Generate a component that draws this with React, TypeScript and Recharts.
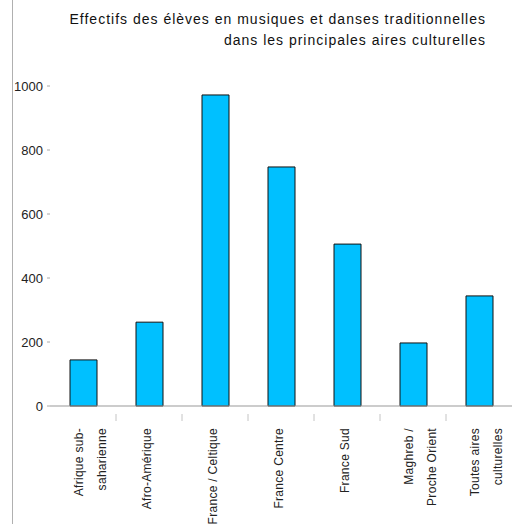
import React from "react";
import { Bar, BarChart, XAxis, YAxis } from "recharts";

const categories = [
  "Afrique sub-|saharienne",
  "Afro-Amérique",
  "France / Celtique",
  "France Centre",
  "France Sud",
  "Maghreb /|Proche Orient",
  "Toutes aires|culturelles",
];
const effectifs = [144, 262, 972, 747, 506, 197, 344];
const yTicks = [0, 200, 400, 600, 800, 1000];

const titleLines = [
  "Effectifs des élèves en musiques et danses traditionnelles",
  "dans les principales aires culturelles",
];

const data = categories.map((c, i) => ({ name: c, value: effectifs[i] }));

const W = 512;
const H = 524;
const LEFT = 50;
const BAND = (W - LEFT) / categories.length;
const FONT = "'Liberation Sans', Arial, Helvetica, sans-serif";

function CategoryTick(props: any) {
  const { x, y, payload, index } = props;
  const lines = String(payload.value).split("|");
  const top = y + 14;
  return (
    <g>
      {index < categories.length - 1 && (
        <line x1={x + BAND / 2} x2={x + BAND / 2} y1={y} y2={y + 7} stroke="#c4c4c4" />
      )}
      {lines.map((ln, k) => {
        const px = lines.length === 1 ? x - 2 : x - 4 + k * 23;
        return (
          <text
            key={k}
            x={px}
            y={top}
            transform={`rotate(-90, ${px}, ${top})`}
            textAnchor="end"
            dominantBaseline="central"
            fontSize={12}
            letterSpacing={0.3}
            fontFamily={FONT}
            fill="#222"
          >
            {ln}
          </text>
        );
      })}
    </g>
  );
}

export default function App() {
  return (
    <div
      style={{
        position: "absolute",
        left: 0,
        top: 0,
        width: W,
        height: H,
        background: "#fff",
        fontFamily: FONT,
      }}
    >
      <div
        style={{
          position: "absolute",
          left: 12,
          top: 0,
          width: 0,
          height: H,
          borderLeft: "1px solid #b0b0b0",
        }}
      />
      <div
        style={{
          position: "absolute",
          right: 26,
          top: 9,
          fontSize: 14,
          lineHeight: "21px",
          letterSpacing: "1px",
          textAlign: "right",
          color: "#111",
          whiteSpace: "nowrap",
        }}
      >
        {titleLines.map((t) => (
          <div key={t}>{t}</div>
        ))}
      </div>
      <div style={{ position: "absolute", left: 0, top: 0 }}>
        <BarChart
          width={W}
          height={H}
          data={data}
          margin={{ top: 86, right: 0, bottom: 0, left: 0 }}
          barCategoryGap={0}
        >
          <XAxis
            dataKey="name"
            interval={0}
            tickLine={false}
            axisLine={{ stroke: "#999" }}
            tick={<CategoryTick />}
            height={118}
          />
          <YAxis
            domain={[0, 1000]}
            ticks={yTicks}
            width={LEFT}
            axisLine={false}
            tickLine={{ stroke: "#aaa" }}
            tickSize={3}
            tickMargin={4}
            tick={{ fontSize: 13, fill: "#222", fontFamily: FONT }}
          />
          <Bar
            dataKey="value"
            fill="#00c0ff"
            stroke="#111"
            strokeWidth={1}
            barSize={27}
            isAnimationActive={false}
          />
        </BarChart>
      </div>
    </div>
  );
}
